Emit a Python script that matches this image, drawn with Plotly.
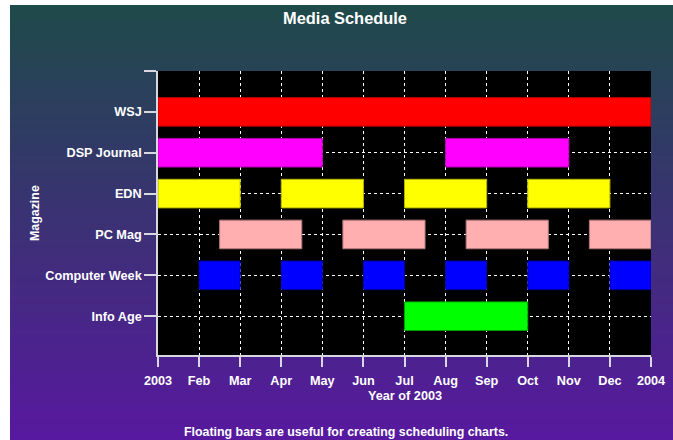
import plotly.graph_objects as go

# ---------------- data ----------------
magazines = ["WSJ", "DSP Journal", "EDN", "PC Mag", "Computer Week", "Info Age"]
month_labels = ["2003", "Feb", "Mar", "Apr", "May", "Jun", "Jul", "Aug",
                "Sep", "Oct", "Nov", "Dec", "2004"]

# start / end in months from 1 Jan 2003
wsj_start = [0]
wsj_end = [12]
dsp_start = [0, 7]
dsp_end = [4, 10]
edn_start = [0, 3, 6, 9]
edn_end = [2, 5, 8, 11]
pcmag_start = [1.5, 4.5, 7.5, 10.5]
pcmag_end = [3.5, 6.5, 9.5, 12]
cw_start = [1, 3, 5, 7, 9, 11]
cw_end = [2, 4, 6, 8, 10, 12]
info_start = [6]
info_end = [9]

series_starts = [wsj_start, dsp_start, edn_start, pcmag_start, cw_start, info_start]
series_ends = [wsj_end, dsp_end, edn_end, pcmag_end, cw_end, info_end]
colors = ["#FF0000", "#FF00FF", "#FFFF00", "#FFAFAF", "#0000FF", "#00FF00"]
edge_colors = ["#b00000", "#b000b0", "#b0b000", "#b07a7a", "#0000a0", "#00a000"]

# ---------------- layout geometry ----------------
W, H = 673, 440
L, R, T, B = 158, 22, 71, 85
PW, PH = W - L - R, H - T - B

def px_x(px):
    return (px - L) / PW

def px_y(py):
    return (H - B - py) / PH

fig = go.Figure()

for i, name in enumerate(magazines):
    s = series_starts[i]
    e = series_ends[i]
    fig.add_trace(go.Bar(
        orientation="h",
        y=[i] * len(s),
        base=s,
        x=[b - a for a, b in zip(s, e)],
        width=0.7,
        name=name,
        marker=dict(color=colors[i], line=dict(color=edge_colors[i], width=1)),
        showlegend=False,
    ))

# gradient background (teal -> purple)
shapes = []
top_c = (31, 74, 74)
bot_c = (88, 24, 160)
x0p, x1p = px_x(10), px_x(W + 4)
y_top, y_bot = 5, H + 4
n = 88
for k in range(n):
    t = k / (n - 1)
    c = tuple(int(round(top_c[j] + (bot_c[j] - top_c[j]) * t)) for j in range(3))
    ya = y_top + (y_bot - y_top) * k / n
    yb = y_top + (y_bot - y_top) * (k + 1) / n + 2.5
    shapes.append(dict(type="rect", xref="paper", yref="paper",
                       x0=x0p, x1=x1p, y0=px_y(yb), y1=px_y(ya),
                       fillcolor="rgb(%d,%d,%d)" % c,
                       line=dict(width=0, color="rgba(0,0,0,0)"),
                       layer="below"))
shapes.append(dict(type="rect", xref="paper", yref="paper", x0=0, x1=1, y0=0, y1=1,
                   fillcolor="black", line=dict(width=0, color="rgba(0,0,0,0)"),
                   layer="below"))

font_family = "Liberation Sans, Arial, sans-serif"
axis_col = "#d8d8e0"
tick_font = dict(size=12.7, color="white", family=font_family, weight="bold")

fig.update_layout(
    width=W, height=H,
    margin=dict(l=L, r=R, t=T, b=B, pad=0, autoexpand=False),
    paper_bgcolor="white",
    plot_bgcolor="black",
    shapes=shapes,
    barmode="overlay",
    font=dict(family=font_family, color="white", size=12, weight="bold"),
    title=dict(text="Media Schedule", x=345 / W, xanchor="center",
               y=1 - 18 / H, yanchor="middle", yref="container",
               font=dict(size=16.4, color="white", family=font_family, weight="bold")),
    xaxis=dict(
        range=[0, 12], tickmode="array", tickvals=list(range(13)),
        ticktext=month_labels, automargin=False,
        showgrid=True, gridcolor="white", griddash="dot", gridwidth=1,
        zeroline=False, showline=True, linecolor=axis_col, linewidth=1.5,
        ticks="outside", ticklen=10, tickcolor=axis_col, tickwidth=1.5,
        tickfont=tick_font, ticklabelstandoff=3,
    ),
    yaxis=dict(
        range=[5.95, -1], tickmode="array", tickvals=list(range(-1, 7)),
        ticktext=[""] + magazines + [""], automargin=False,
        showgrid=True, gridcolor="white", griddash="dot", gridwidth=1,
        zeroline=False, showline=True, linecolor=axis_col, linewidth=1.5,
        ticks="outside", ticklen=12, tickcolor=axis_col, tickwidth=1.5,
        tickfont=tick_font,
    ),
    annotations=[
        dict(text="Year of 2003", xref="paper", yref="paper", x=0.5, y=px_y(396),
             xanchor="center", yanchor="middle", showarrow=False,
             font=dict(size=12.7, color="white", family=font_family, weight="bold")),
        dict(text="Magazine", xref="paper", yref="paper", x=px_x(35), y=0.5,
             xanchor="center", yanchor="middle", showarrow=False, textangle=-90,
             font=dict(size=12.4, color="white", family=font_family, weight="bold")),
        dict(text="Floating bars are useful for creating scheduling charts.",
             xref="paper", yref="paper", x=px_x(346), y=px_y(432),
             xanchor="center", yanchor="middle", showarrow=False,
             font=dict(size=12.4, color="white", family=font_family, weight="bold")),
    ],
)

fig.write_html("out.html")
